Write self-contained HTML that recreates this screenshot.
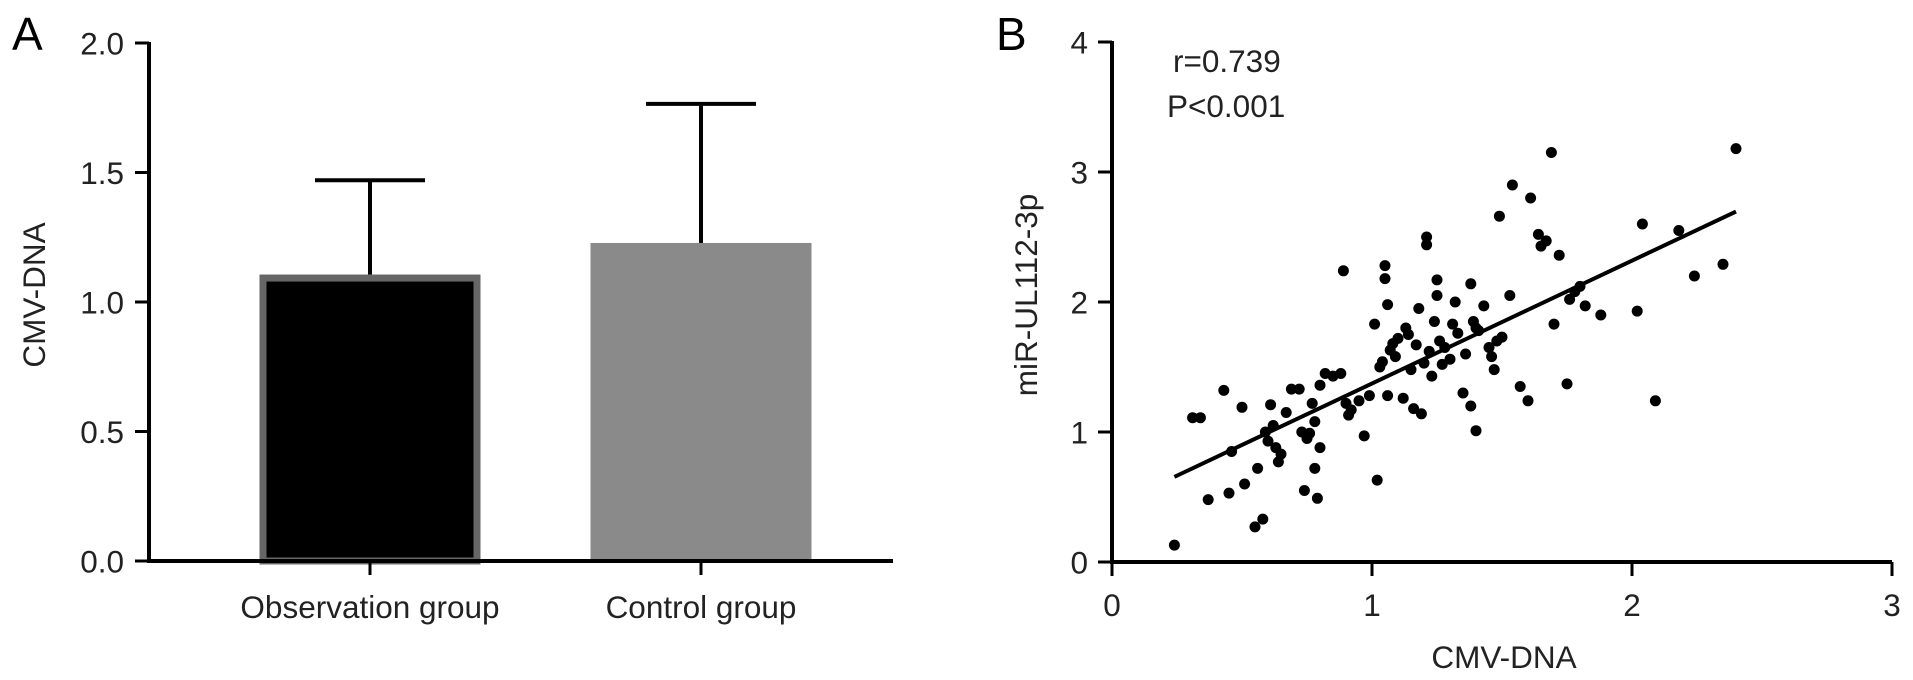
<!DOCTYPE html>
<html><head><meta charset="utf-8"><style>
html,body{margin:0;padding:0;background:#fff;}
svg{display:block;font-family:"Liberation Sans",Arial,sans-serif;}
</style></head><body>
<svg id="fig" width="1913" height="680" viewBox="0 0 1913 680">
<text x="12" y="50" font-size="46">A</text>
<text x="996" y="50" font-size="46">B</text>
<g id="pa"></g>
<g id="pb"></g>
</svg>
<script>
const barCategories = ["Observation group", "Control group"];
const barMeans = [1.106, 1.228];
const barErrors = [0.364, 0.537];
const barTicks = ["0.0","0.5","1.0","1.5","2.0"];

const scatterX = [0.24,0.31,0.34,0.37,0.43,0.45,0.46,0.50,0.51,0.55,0.56,0.58,0.59,0.60,0.61,0.62,0.63,0.64,0.65,0.67,0.69,0.72,0.73,0.74,0.75,0.76,0.77,0.78,0.78,0.79,0.80,0.80,0.82,0.85,0.88,0.89,0.90,0.91,0.92,0.95,0.97,0.99,1.01,1.02,1.03,1.04,1.05,1.05,1.06,1.06,1.07,1.08,1.09,1.10,1.12,1.13,1.14,1.15,1.16,1.17,1.18,1.19,1.20,1.21,1.21,1.22,1.23,1.24,1.25,1.25,1.26,1.27,1.28,1.30,1.31,1.32,1.33,1.35,1.36,1.38,1.38,1.39,1.40,1.40,1.41,1.43,1.45,1.46,1.47,1.48,1.49,1.50,1.53,1.54,1.57,1.60,1.61,1.64,1.65,1.67,1.69,1.70,1.72,1.75,1.76,1.78,1.80,1.82,1.88,2.02,2.04,2.09,2.18,2.24,2.35,2.40];
const scatterY = [0.13,1.11,1.11,0.48,1.32,0.53,0.85,1.19,0.60,0.27,0.72,0.33,1.00,0.93,1.21,1.05,0.88,0.77,0.83,1.15,1.33,1.33,1.00,0.55,0.95,0.99,1.22,0.72,1.08,0.49,1.36,0.88,1.45,1.43,1.45,2.24,1.22,1.13,1.17,1.24,0.97,1.28,1.83,0.63,1.50,1.54,2.28,2.18,1.98,1.28,1.63,1.68,1.58,1.72,1.26,1.80,1.75,1.48,1.18,1.67,1.95,1.14,1.53,2.50,2.44,1.62,1.43,1.85,2.17,2.05,1.70,1.52,1.65,1.56,1.83,2.00,1.76,1.30,1.60,1.20,2.14,1.85,1.80,1.01,1.78,1.97,1.65,1.58,1.48,1.70,2.66,1.73,2.05,2.90,1.35,1.24,2.80,2.52,2.43,2.47,3.15,1.83,2.36,1.37,2.02,2.08,2.12,1.97,1.90,1.93,2.60,1.24,2.55,2.20,2.29,3.18];
const fitX = [0.24, 2.40];
const fitSlope = 0.945;
const fitIntercept = 0.428;
const scatterXTicks = ["0","1","2","3"];
const scatterYTicks = ["0","1","2","3","4"];

const NS="http://www.w3.org/2000/svg";
function mk(parent,tag,attrs,text){const e=document.createElementNS(NS,tag);for(const k in attrs)e.setAttribute(k,attrs[k]);if(text!==undefined)e.textContent=text;parent.appendChild(e);return e;}
const FS=31.5;

// Panel A
const pa=document.getElementById('pa');
const aX0=149,aY0=561,aY1=43,aMax=2.0;
const ay=v=>aY0-(v/aMax)*(aY0-aY1);
const barCenters=[370,701], barW=221;
const barFill=["#000000","#8a8a8a"], barStroke=["#666666","none"];
barCategories.forEach((c,i)=>{
  const cx=barCenters[i], top=ay(barMeans[i]), et=ay(barMeans[i]+barErrors[i]);
  let l=mk(pa,'line',{x1:cx,x2:cx,y1:top,y2:et,stroke:'#000','stroke-width':4});
  
  
  let cap=mk(pa,'line',{x1:cx-55,x2:cx+55,y1:et,y2:et,stroke:'#000','stroke-width':4});
  
  
  let r;
  if(barStroke[i]!=='none'){
    r=mk(pa,'rect',{x:cx-barW/2+3.5,y:top+3.5,width:barW-7,height:aY0-top-3.5,fill:barFill[i],stroke:barStroke[i],'stroke-width':7});
  } else {
    r=mk(pa,'rect',{x:cx-barW/2,y:top,width:barW,height:aY0-top,fill:barFill[i]});
  }
  
  
  let t=mk(pa,'line',{x1:cx,x2:cx,y1:aY0,y2:aY0+14,stroke:'#000','stroke-width':3});
  
  
  let lb=mk(pa,'text',{x:cx,y:618,'font-size':FS,'text-anchor':'middle',fill:'#222'},c);
  
  
});
barTicks.forEach((s,i)=>{
  const v=i*0.5,y=ay(v);
  let t=mk(pa,'line',{x1:aX0-14,x2:aX0,y1:y,y2:y,stroke:'#000','stroke-width':3});
  
  
  let lb=mk(pa,'text',{x:124,y:y+11.5,'font-size':FS,'text-anchor':'end',fill:'#222'},s);
  
  
});
let ax=mk(pa,'path',{d:`M${aX0},${aY1-1} V${aY0} H893`,fill:'none',stroke:'#000','stroke-width':4});


let yt=mk(pa,'text',{x:0,y:0,'font-size':FS,'text-anchor':'middle',transform:'translate(45,295) rotate(-90)',fill:'#222'},'CMV-DNA');



// Panel B
const pb=document.getElementById('pb');
const bX0=1112,bX1=1892,bY0=562,bY1=42;
const bx=v=>bX0+v/3*(bX1-bX0);
const by=v=>bY0-v/4*(bY0-bY1);
scatterXTicks.forEach((s,i)=>{
  const x=bx(i);
  let t=mk(pb,'line',{x1:x,x2:x,y1:bY0,y2:bY0+14,stroke:'#000','stroke-width':3});
  
  
  let lb=mk(pb,'text',{x:x,y:616,'font-size':FS,'text-anchor':'middle',fill:'#222'},s);
  
  
});
scatterYTicks.forEach((s,i)=>{
  const y=by(i);
  let t=mk(pb,'line',{x1:bX0-14,x2:bX0,y1:y,y2:y,stroke:'#000','stroke-width':3});
  
  
  let lb=mk(pb,'text',{x:1088,y:y+11.5,'font-size':FS,'text-anchor':'end',fill:'#222'},s);
  
  
});
let bax=mk(pb,'path',{d:`M${bX0},${bY1-1} V${bY0} H${bX1}`,fill:'none',stroke:'#000','stroke-width':4});


scatterX.forEach((xv,i)=>{
  let c=mk(pb,'circle',{cx:bx(xv),cy:by(scatterY[i]),r:5.5,fill:'#000'});
  
  
});
let fl=mk(pb,'line',{x1:bx(fitX[0]),y1:by(fitIntercept+fitSlope*fitX[0]),x2:bx(fitX[1]),y2:by(fitIntercept+fitSlope*fitX[1]),stroke:'#000','stroke-width':4});


let r1=mk(pb,'text',{x:1173,y:72,'font-size':FS,fill:'#222'},'r=0.739');


let p1=mk(pb,'text',{x:1167,y:117,'font-size':FS,fill:'#222'},'P<0.001');


let xt=mk(pb,'text',{x:1504,y:668,'font-size':FS,'text-anchor':'middle',fill:'#222'},'CMV-DNA');


let byt=mk(pb,'text',{x:0,y:0,'font-size':FS,'text-anchor':'middle',transform:'translate(1037,295) rotate(-90)',fill:'#222'},'miR-UL112-3p');


</script>
</body></html>
